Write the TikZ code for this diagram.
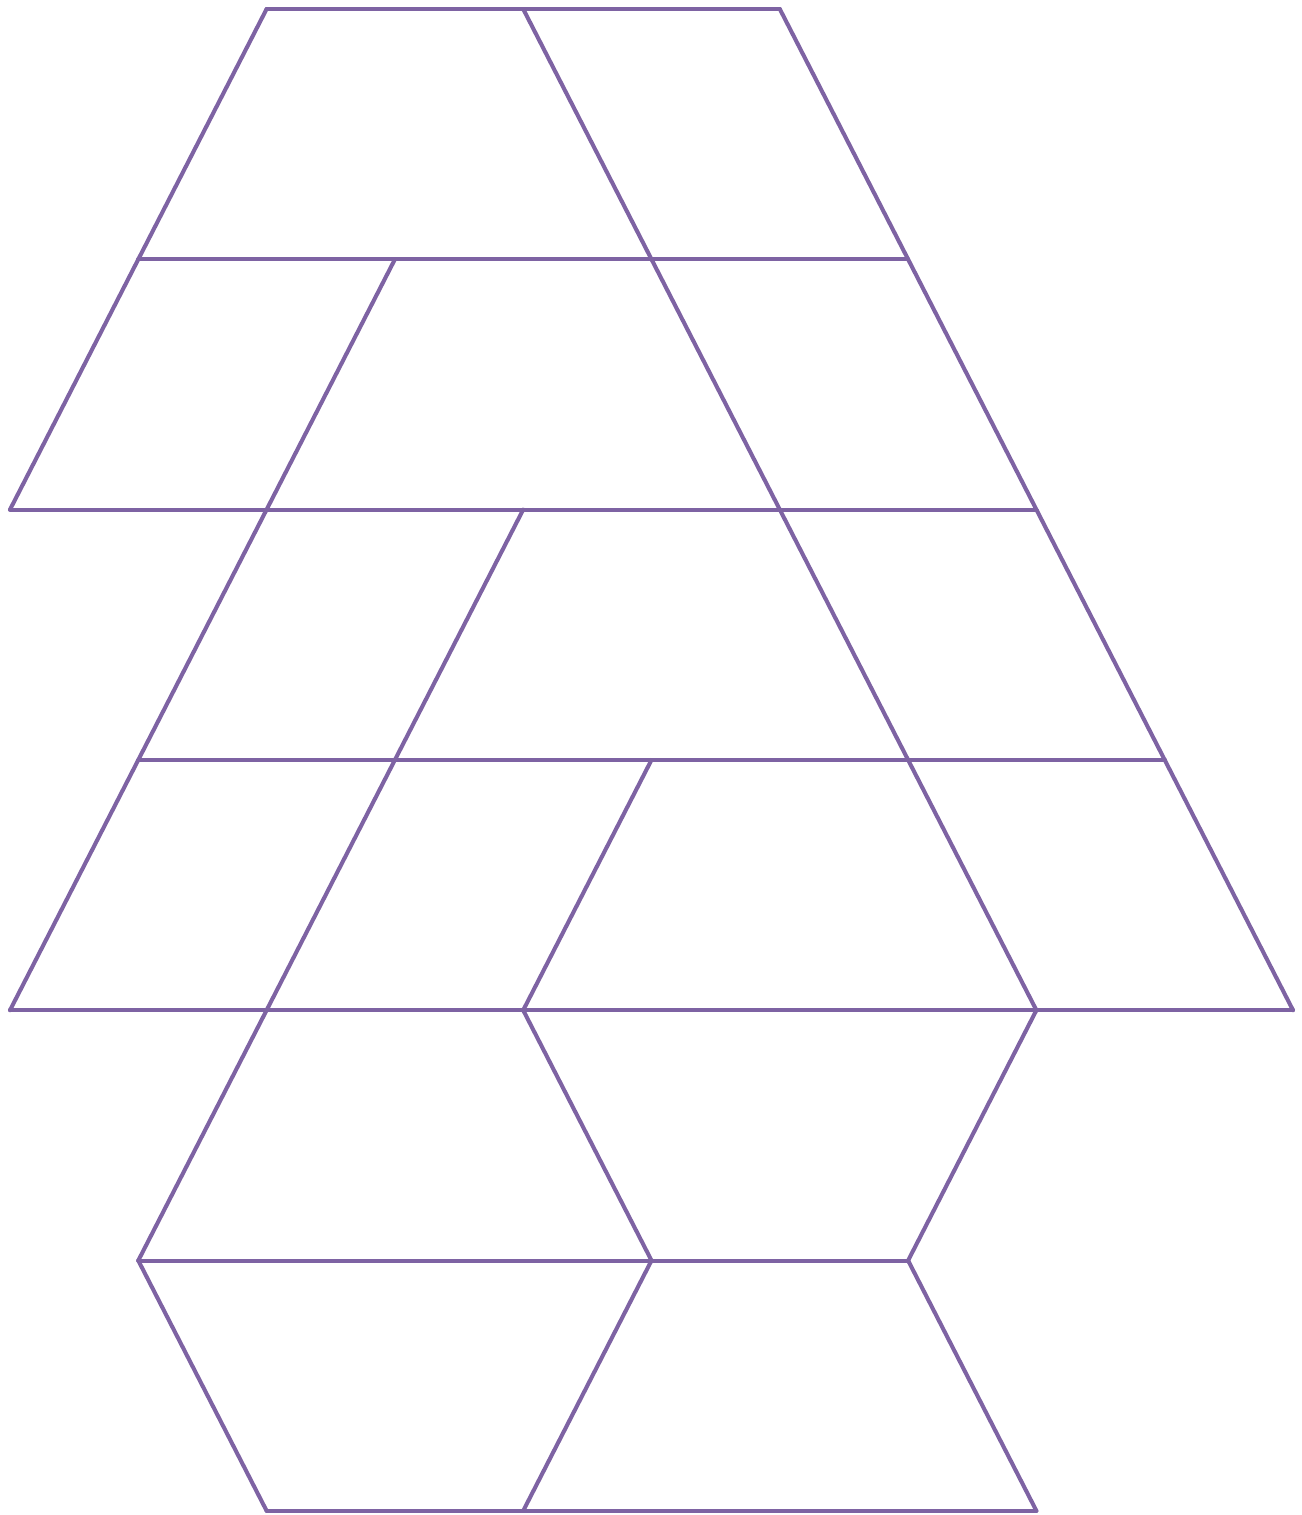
\documentclass[tikz,border=0pt]{standalone}
\usepackage{tikz}
\definecolor{tile}{HTML}{7E63A3}
\tikzset{edge/.style={draw=tile,line width=1.15pt,line cap=round,line join=round}}
\begin{document}
\begin{tikzpicture}
\useasboundingbox (-0.10,0.09) rectangle (12.92,-15.06);
\begin{scope}[x=1.283cm,y=-2.503cm]
% horizontal rows
\foreach \r/\a/\b in {0/2/6,1/1/7,2/0/8,3/1/9,4/0/10,5/1/7,6/2/8}
  \draw[edge] (\a,\r)--(\b,\r);
% slanted edges, row by row
\foreach \xa/\ya/\xb/\yb in {2/0/1/1,4/0/5/1,6/0/7/1,
    1/1/0/2,3/1/2/2,5/1/6/2,7/1/8/2,
    2/2/1/3,4/2/3/3,6/2/7/3,8/2/9/3,
    1/3/0/4,3/3/2/4,5/3/4/4,7/3/8/4,9/3/10/4,
    2/4/1/5,4/4/5/5,8/4/7/5,
    1/5/2/6,5/5/4/6,7/5/8/6}
  \draw[edge] (\xa,\ya)--(\xb,\yb);
\end{scope}
\end{tikzpicture}
\end{document}
